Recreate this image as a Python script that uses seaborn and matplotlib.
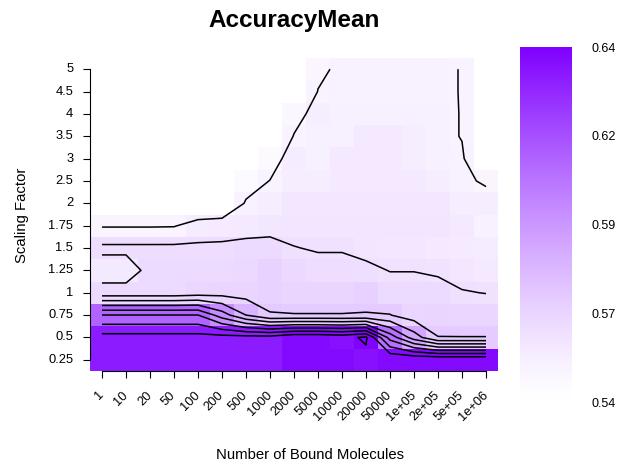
import numpy as np
import pandas as pd
import matplotlib
matplotlib.use("Agg")
import matplotlib.pyplot as plt
import seaborn as sns
from matplotlib.colors import ListedColormap, to_rgb

x_labels = ["1", "10", "20", "50", "100", "200", "500", "1000", "2000", "5000",
            "10000", "20000", "50000", "1e+05", "2e+05", "5e+05", "1e+06"]
y_labels = ["5", "4.5", "4", "3.5", "3", "2.5", "2", "1.75", "1.5", "1.25",
            "1", "0.75", "0.5", "0.25"]

row_5    = [.540, .540, .540, .540, .540, .540, .540, .540, .540, .5485, .5515, .5515, .5515, .5515, .5515, .5497, .540]
row_4_5  = [.540, .540, .540, .540, .540, .540, .540, .540, .540, .5502, .5515, .5515, .5515, .5515, .5515, .5497, .540]
row_4    = [.540, .540, .540, .540, .540, .540, .540, .540, .547, .553, .552, .552, .552, .552, .552, .5497, .540]
row_3_5  = [.540, .540, .540, .540, .540, .540, .540, .540, .5504, .552, .552, .556, .556, .553, .552, .5497, .540]
row_3    = [.540, .540, .540, .540, .540, .540, .540, .546, .554, .552, .556, .556, .556, .553, .552, .551, .540]
row_2_5  = [.540, .540, .540, .540, .540, .540, .546, .5502, .553, .553, .556, .556, .556, .556, .553, .5515, .549]
row_2    = [.540, .540, .540, .540, .540, .540, .5509, .553, .557, .557, .557, .557, .557, .557, .557, .553, .553]
row_1_75 = [.5492, .5492, .5492, .5494, .5537, .555, .556, .557, .558, .558, .558, .558, .558, .558, .558, .556, .551]
row_1_5  = [.562, .562, .562, .562, .562, .562, .563, .563, .5602, .5595, .5595, .558, .557, .557, .556, .555, .554]
row_1_25 = [.5555, .5555, .5627, .5625, .5625, .5625, .564, .567, .564, .562, .562, .5615, .5598, .5598, .559, .557, .556]
row_1    = [.5635, .5635, .5635, .5635, .565, .566, .566, .567, .566, .566, .566, .568, .563, .563, .5625, .5605, .5598]
row_0_75 = [.6102, .6102, .6102, .6102, .6102, .595, .580, .5705, .5703, .5703, .5703, .5703, .5703, .565, .566, .565, .565]
row_0_5  = [.634, .634, .634, .634, .634, .634, .634, .634, .639, .639, .637, .6415, .606, .585, .5702, .5702, .5702]
row_0_25 = [.634, .634, .634, .634, .634, .634, .634, .634, .639, .639, .639, .637, .6395, .6395, .6395, .6395, .6395]

rows = [row_5, row_4_5, row_4, row_3_5, row_3, row_2_5, row_2, row_1_75,
        row_1_5, row_1_25, row_1, row_0_75, row_0_5, row_0_25]
Z = np.array(rows)
df = pd.DataFrame(Z, index=y_labels, columns=x_labels)

vmin, vmax = 0.540, 0.6425
cbar_labels = ["0.54", "0.57", "0.59", "0.62", "0.64"]
levels = [0.55, 0.56, 0.57, 0.58, 0.59, 0.60, 0.61, 0.62, 0.63, 0.64]

# white -> violet ramp, slightly lighter toward the low end
top = np.array(to_rgb("#7F00FF"))
tt = np.linspace(0, 1, 256) ** 1.3
cmap = ListedColormap(1 - np.outer(tt, 1 - top))

plt.rcParams['font.family'] = ['Liberation Sans', 'DejaVu Sans']

W, H = 629, 467
fig = plt.figure(figsize=(W / 100, H / 100), dpi=100)
ax = fig.add_axes([90 / W, (H - 371) / H, 408 / W, 313 / H])
cax = fig.add_axes([520 / W, (H - 403) / H, 52 / W, 356 / H])

sns.heatmap(df, ax=ax, cmap=cmap, vmin=vmin, vmax=vmax, cbar_ax=cax,
            xticklabels=x_labels, yticklabels=y_labels)

xs = np.arange(len(x_labels)) + 0.5
ys = np.arange(len(y_labels)) + 0.5
ax.contour(xs, ys, Z, levels=levels, colors="black", linewidths=1.1)

for s in ["top", "right"]:
    ax.spines[s].set_visible(False)
for s in ["left", "bottom"]:
    ax.spines[s].set_visible(True)
    ax.spines[s].set_color("black")
    ax.spines[s].set_linewidth(0.8)
ax.spines["left"].set_bounds(0.5, len(y_labels) - 0.5)
ax.spines["bottom"].set_bounds(0.5, len(x_labels) - 0.5)

ax.tick_params(axis="both", length=5, width=0.8, color="black", labelsize=9.3)
ax.tick_params(axis="y", pad=7)
ax.tick_params(axis="x", pad=11)
plt.setp(ax.get_yticklabels(), rotation=0)
for lab in ax.get_xticklabels():
    lab.set_rotation(45)
    lab.set_ha("right")
    lab.set_va("center")
    lab.set_rotation_mode("anchor")
ax.set_xlabel("")
ax.set_ylabel("")

cax.set_yticks(np.linspace(vmin, vmax, 5))
cax.set_yticklabels(cbar_labels)
cax.tick_params(length=0, pad=14, labelsize=9)
for s in cax.spines.values():
    s.set_visible(False)

fig.text(294 / W, 1 - 20 / H, "AccuracyMean", ha="center", va="center",
         fontsize=17.5, fontweight="bold")
fig.text(310 / W, 1 - 455 / H, "Number of Bound Molecules", ha="center",
         va="center", fontsize=10.7)
fig.text(22 / W, 1 - 215 / H, "Scaling Factor", ha="center", va="center",
         rotation=90, fontsize=10.7)

fig.savefig("out.png", dpi=100)
